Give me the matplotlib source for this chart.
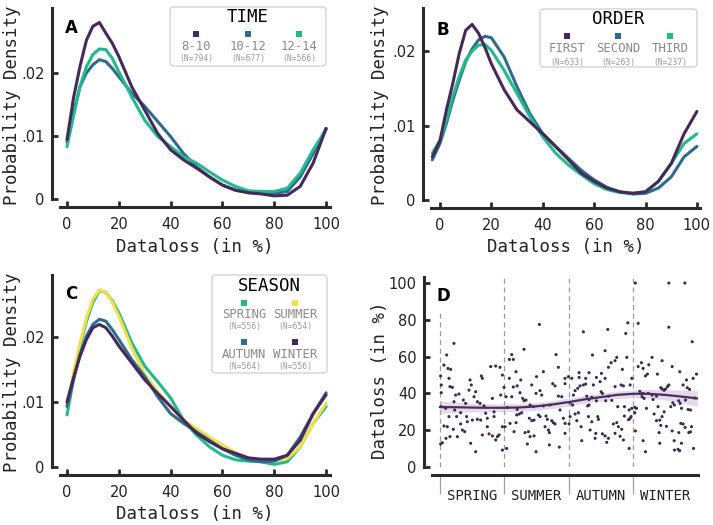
import numpy as np
import matplotlib
matplotlib.use("Agg")
import matplotlib.pyplot as plt
from matplotlib.patches import FancyBboxPatch, Rectangle

# ---------------- data ----------------
# density curves, x = dataloss in %
grid = [0, 2.5, 5, 7.5, 10, 12.5, 15, 17.5, 20, 25, 30, 35, 40, 45, 50, 55, 60, 65, 70, 75, 80, 85, 90, 95, 100]

time_labels = ["8-10", "10-12", "12-14"]
time_n = [794, 677, 566]
time_8_10 = [0.0094, 0.0160, 0.0210, 0.0252, 0.0274, 0.0280, 0.0263, 0.0247, 0.0226, 0.0178, 0.0141, 0.0104,
             0.0078, 0.0062, 0.0049, 0.0035, 0.0022, 0.0014, 0.0010, 0.0008, 0.0005, 0.0006, 0.0020, 0.0057,
             0.0112]
time_10_12 = [0.0090, 0.0136, 0.0178, 0.0200, 0.0213, 0.0221, 0.0218, 0.0207, 0.0194, 0.0168, 0.0147, 0.0123,
              0.0099, 0.0072, 0.0051, 0.0035, 0.0022, 0.0014, 0.0010, 0.0009, 0.0009, 0.0012, 0.0035, 0.0072,
              0.0112]
time_12_14 = [0.0083, 0.0131, 0.0178, 0.0210, 0.0229, 0.0238, 0.0237, 0.0223, 0.0202, 0.0162, 0.0125, 0.0099,
              0.0083, 0.0067, 0.0057, 0.0043, 0.0030, 0.0020, 0.0013, 0.0012, 0.0012, 0.0017, 0.0041, 0.0078,
              0.0110]

grid_b = [-3, 0, 2.5, 5, 7.5, 10, 12.5, 15, 17.5, 20, 25, 30, 35, 40, 45, 50, 55, 60, 65, 70, 75, 80, 85, 90,
          95, 100]
order_labels = ["FIRST", "SECOND", "THIRD"]
order_n = [633, 263, 237]
order_first = [0.0058, 0.0080, 0.0121, 0.0157, 0.0197, 0.0228, 0.0236, 0.0224, 0.0205, 0.0183, 0.0148, 0.0121,
               0.0105, 0.0089, 0.0072, 0.0054, 0.0036, 0.0025, 0.0016, 0.0011, 0.0009, 0.0011, 0.0025, 0.0049,
               0.0089, 0.0119]
order_second = [0.0054, 0.0076, 0.0103, 0.0134, 0.0161, 0.0186, 0.0203, 0.0215, 0.0220, 0.0218, 0.0192, 0.0152,
                0.0116, 0.0089, 0.0072, 0.0056, 0.0040, 0.0027, 0.0017, 0.0011, 0.0008, 0.0009, 0.0016, 0.0031,
                0.0058, 0.0072]
order_third = [0.0063, 0.0080, 0.0107, 0.0139, 0.0166, 0.0188, 0.0200, 0.0208, 0.0209, 0.0201, 0.0174, 0.0143,
               0.0112, 0.0085, 0.0063, 0.0047, 0.0034, 0.0022, 0.0014, 0.0010, 0.0009, 0.0011, 0.0025, 0.0049,
               0.0076, 0.0089]

season_labels = ["SPRING", "SUMMER", "AUTUMN", "WINTER"]
season_n = [556, 654, 564, 556]
season_spring = [0.0080, 0.0134, 0.0186, 0.0224, 0.0253, 0.0271, 0.0268, 0.0255, 0.0237, 0.0191, 0.0155, 0.0131,
                 0.0106, 0.0072, 0.0049, 0.0031, 0.0018, 0.0011, 0.0009, 0.0008, 0.0004, 0.0008, 0.0031, 0.0067,
                 0.0093]
season_summer = [0.0093, 0.0144, 0.0190, 0.0229, 0.0258, 0.0272, 0.0268, 0.0253, 0.0232, 0.0183, 0.0142, 0.0116,
                 0.0093, 0.0072, 0.0059, 0.0046, 0.0034, 0.0022, 0.0014, 0.0010, 0.0010, 0.0013, 0.0031, 0.0067,
                 0.0098]
season_autumn = [0.0093, 0.0134, 0.0173, 0.0201, 0.0219, 0.0227, 0.0224, 0.0211, 0.0196, 0.0165, 0.0139, 0.0108,
                 0.0082, 0.0067, 0.0054, 0.0041, 0.0028, 0.0018, 0.0011, 0.0008, 0.0009, 0.0018, 0.0046, 0.0082,
                 0.0114]
season_winter = [0.0100, 0.0137, 0.0170, 0.0196, 0.0214, 0.0219, 0.0214, 0.0201, 0.0186, 0.0160, 0.0134, 0.0113,
                 0.0093, 0.0072, 0.0052, 0.0039, 0.0028, 0.0021, 0.0014, 0.0012, 0.0012, 0.0018, 0.0041, 0.0082,
                 0.0111]

# panel D: sessions over the year (x in seasons, 0 = start of spring)
pts_x = [0.218, 0.104, 0.062, 0.124, 0.166, 0.01, 0.14, 0.02, 0.155, 0.192, 0.295, 0.244, 0.02, 0.467, 0.487,
         0.643, 0.658, 0.555, 0.529, 0.451, 0.363, 0.218, 0.399, 0.581, 0.622, 0.684, 0.02, 0.088, 0.228,
         0.321, 0.259, 0.414, 0.503, 0.581, 0.632, 0.71, 0.736, 0.84, 0.14, 0.425, 0.062, 0.114, 0.321,
         0.347, 0.384, 0.207, 0.27, 0.155, 0.093, 0.036, 0.01, 0.477, 0.555, 0.658, 0.762, 0.892, 0.814,
         0.866, 0.814, 0.788, 0.866, 0.933, 0.97, 0.995, 0.943, 0.84, 0.97, 0.918, 0.97, 0.736,
         # summer
         1.545, 1.306, 1.078, 1.14, 1.115, 1.804, 1.182, 1.607, 1.84, 1.078, 1.255, 1.5, 1.14, 1.2, 1.426,
         1.752, 1.788, 1.944, 1.996, 1.944, 1.555, 1.493, 1.581, 1.244, 1.115, 1.286, 1.306, 1.337, 1.4,
         1.451, 1.607, 1.84, 1.892, 1.711, 1.027, 1.2, 1.047, 1.233, 1.27, 1.192, 1.389, 1.426, 1.462,
         1.529, 1.555, 1.648, 1.669, 1.737, 1.762, 1.788, 1.633, 1.684, 1.7, 1.918, 1.866, 1.944, 1.089,
         1.182, 1.151, 1.011, 1.322, 1.374, 1.4, 1.462, 1.358, 1.493, 1.7, 1.855, 1.037, 1.944,
         # autumn
         2.229, 2.608, 2.919, 2.887, 2.566, 2.369, 2.903, 2.747, 2.721, 2.659, 2.618, 2.835, 2.048, 2.162,
         2.162, 2.317, 2.265, 2.431, 2.509, 2.566, 2.488, 2.384, 2.229, 2.265, 2.177, 2.141, 2.1, 2.074,
         2.721, 2.815, 2.851, 2.981, 2.955, 2.504, 2.525, 2.281, 2.359, 2.317, 2.618, 2.431, 2.576, 2.022,
         2.06, 2.317, 2.296, 2.67, 2.763, 2.866, 2.981, 2.94, 2.151, 2.1, 2.022, 2.307, 2.452, 2.462,
         2.866, 2.955, 2.126, 2.359, 2.695, 2.747, 2.773, 2.193, 2.006, 2.333, 2.825, 2.721, 2.929, 2.421,
         2.525, 2.566, 2.618, 2.41, 2.203, 2.799, 2.851, 2.94, 2.592, 2.97,
         # winter
         3.037, 3.557, 3.806, 3.08, 3.557, 3.92, 3.296, 3.452, 3.131, 3.08, 3.157, 3.245, 3.608, 3.727,
         3.987, 3.935, 3.224, 3.193, 3.379, 3.831, 3.779, 3.557, 3.536, 3.505, 3.484, 3.431, 3.452, 3.843,
         3.879, 3.105, 3.131, 3.157, 3.235, 3.296, 3.364, 3.141, 3.172, 3.312, 3.96, 3.618, 3.644, 3.711,
         3.732, 3.815, 3.857, 3.893, 3.028, 3.054, 3.209, 3.389, 3.587, 3.753, 3.028, 3.328, 3.484, 3.452,
         3.364, 3.416, 3.431, 3.743, 3.779, 3.909, 3.519, 3.405, 3.608, 3.712, 3.867, 3.893, 3.81, 3.037,
         3.157, 3.416, 3.64, 3.193, 3.644, 3.7, 3.725, 3.753, 3.94]
pts_y = [67.2, 60.9, 55.4, 53.6, 53.1, 49.5, 48.2, 44.6, 43.7, 43.3, 39.7, 39.1, 40.4, 47.3, 44.6,
         49.5, 48.2, 40.9, 38.2, 41.8, 36.4, 35.5, 34.6, 35.5, 34.6, 33.2, 32.8, 31.9, 31.0,
         29.5, 27.4, 27.4, 25.5, 25.9, 25.5, 29.2, 26.5, 27.4, 27.4, 24.6, 22.3, 21.9, 23.4,
         20.1, 19.2, 20.5, 16.5, 16.5, 15.6, 13.2, 12.5, 12.9, 8.3, 17.4, 18.0, 16.5, 16.9,
         14.7, 37.3, 54.6, 54.9, 54.2, 50.0, 43.3, 39.1, 30.0, 21.9, 17.4, 9.2, 21.9,
         # summer
         77.5, 64.0, 58.5, 58.5, 61.1, 61.1, 51.8, 51.8, 54.2, 48.2, 47.3, 49.1, 43.5, 44.1, 44.6,
         45.3, 44.1, 48.2, 49.1, 45.3, 41.5, 40.0, 39.1, 40.4, 38.2, 37.3, 36.0, 36.4, 33.7,
         32.8, 33.2, 38.5, 38.2, 33.7, 38.2, 31.3, 32.4, 28.8, 29.5, 28.3, 26.5, 25.2, 25.5,
         28.3, 27.4, 27.7, 25.9, 25.2, 24.1, 23.4, 21.9, 20.1, 18.7, 26.5, 31.0, 23.7, 23.7,
         24.1, 19.2, 21.9, 18.7, 19.2, 16.5, 16.9, 12.5, 8.3, 12.0, 10.8, 10.1, 18.3,
         # autumn
         73.5, 74.8, 78.4, 72.6, 63.2, 60.9, 59.6, 59.6, 57.8, 56.7, 54.2, 53.1, 48.2, 51.3,
         48.7, 51.3, 48.2, 48.7, 50.9, 48.2, 46.4, 44.6, 44.6, 45.1, 44.1, 42.8, 41.5, 39.1,
         43.7, 44.6, 44.1, 48.2, 44.6, 40.9, 40.0, 38.5, 37.9, 36.7, 38.5, 36.0, 36.0, 34.9,
         33.7, 33.7, 33.2, 36.2, 32.8, 32.8, 31.9, 31.0, 29.5, 28.8, 27.4, 27.4, 27.4, 25.9,
         27.7, 26.5, 25.2, 24.6, 23.4, 24.1, 21.9, 21.9, 23.4, 20.1, 20.5, 18.3, 25.7, 18.3,
         18.0, 16.9, 15.6, 15.6, 14.3, 16.7, 14.7, 10.1, 13.4, 27.4,
         # winter
         100.0, 100.0, 100.0, 78.1, 76.0, 68.1, 59.6, 57.8, 56.7, 54.6, 53.6, 55.6, 54.6, 51.8,
         50.5, 48.2, 50.5, 49.5, 50.5, 47.3, 44.6, 44.6, 43.7, 42.4, 41.7, 43.1, 42.4, 43.1,
         42.2, 41.1, 39.7, 40.0, 40.0, 39.1, 38.5, 38.2, 37.3, 36.7, 37.5, 34.9, 33.7, 36.0,
         34.6, 36.4, 31.3, 31.0, 32.4, 31.9, 31.9, 32.8, 32.8, 31.9, 29.5, 28.8, 30.0, 27.4,
         25.2, 25.5, 22.6, 23.7, 23.4, 21.9, 22.1, 18.7, 19.6, 18.7, 18.7, 19.1, 21.5, 19.6,
         14.3, 12.9, 14.3, 8.3, 9.2, 9.6, 8.9, 12.9, 10.1]

# smoothed trend + confidence band for panel D
trend_x = [0, 0.25, 0.5, 0.75, 1, 1.25, 1.5, 1.75, 2, 2.25, 2.5, 2.75, 3, 3.25, 3.5, 3.75, 4]
trend_y = [32.6, 32.5, 32.3, 32.2, 32.2, 32.4, 33.0, 34.0, 35.3, 36.8, 38.0, 39.2, 39.8, 39.8, 39.2, 38.3, 37.3]
trend_se = [3.4, 2.8, 2.4, 2.2, 2.1, 2.1, 2.1, 2.2, 2.2, 2.1, 2.1, 2.1, 2.2, 2.4, 2.8, 3.5, 4.3]

# ---------------- style ----------------
PURPLE = "#45295a"
TEAL = "#2d6c8c"
GREEN = "#22b98c"
YELLOW = "#f3df48"
SPINE = "#2a2a2a"
MONO = "DejaVu Sans Mono"

plt.rcParams["font.family"] = ["DejaVu Sans"]

W, H = 713, 525
fig = plt.figure(figsize=(W / 100, H / 100), dpi=100)


def fx(px):
    return px / W


def fy(py):
    return 1 - py / H


def style_axes(ax):
    for s in ["top", "right"]:
        ax.spines[s].set_visible(False)
    for s in ["left", "bottom"]:
        ax.spines[s].set_position(("outward", 6))
        ax.spines[s].set_linewidth(2.2)
        ax.spines[s].set_color(SPINE)
    ax.tick_params(direction="in", length=4, width=2, color=SPINE, labelsize=10.5, labelcolor="#222222")
    ax.tick_params(axis="x", pad=7)
    ax.tick_params(axis="y", pad=5)
    ax.patch.set_alpha(0)


def density_axes(ax, xs, curves, colors, ylim, yticks, ylabels, xlim):
    for ys, c in zip(curves, colors):
        ax.plot(xs, ys, color=c, lw=2.2, solid_capstyle="round", solid_joinstyle="round")
    ax.set_xlim(*xlim)
    ax.set_ylim(*ylim)
    ax.set_xticks([0, 20, 40, 60, 80, 100])
    ax.set_yticks(yticks)
    ax.set_yticklabels(ylabels)
    style_axes(ax)


def legend_box(x0, y0, x1, y1):
    box = FancyBboxPatch((fx(x0), fy(y1)), fx(x1) - fx(x0), fy(y0) - fy(y1),
                         boxstyle="round,pad=0,rounding_size=0.006", transform=fig.transFigure,
                         facecolor="white", edgecolor="#cfcfcf", lw=0.9, zorder=5)
    fig.add_artist(box)


def legend_entry(cx, my, ly, ny, color, label, n):
    fig.add_artist(Rectangle((fx(cx - 3), fy(my + 3)), 6 / W, 6 / H, transform=fig.transFigure,
                             facecolor=color, edgecolor="none", zorder=6))
    fig.text(fx(cx), fy(ly), label, family=MONO, fontsize=8.8, color="#8a8a8a",
             ha="center", va="center", zorder=6)
    fig.text(fx(cx), fy(ny), "(N=%d)" % n, family=MONO, fontsize=5.8, color="#9a9a9a",
             ha="center", va="center", zorder=6)


# ---------------- panel A ----------------
axA = fig.add_axes([fx(60), fy(199), (330 - 60) / W, (199 - 8) / H])
density_axes(axA, grid, [time_10_12, time_12_14, time_8_10], [TEAL, GREEN, PURPLE],
             (0, 0.0303), [0, 0.01, 0.02], ["0", ".01", ".02"], (-2.7, 101.5))
fig.text(fx(12), fy(105), "Probability Density", family=MONO, fontsize=12.5, rotation=90,
         ha="center", va="center", color="#222222")
fig.text(fx(195), fy(247), "Dataloss (in %)", family=MONO, fontsize=12.5, ha="center", va="center",
         color="#222222")
fig.text(fx(71), fy(28), "A", fontsize=12, fontweight="bold", ha="center", va="center")

legend_box(170, 7, 326, 66)
fig.text(fx(248), fy(17), "TIME", family=MONO, fontsize=12.5, ha="center", va="center", zorder=6)
for cx, c, lab, n in zip([196, 248, 299], [PURPLE, TEAL, GREEN], time_labels, time_n):
    legend_entry(cx, 34, 47, 59, c, lab, n)

# ---------------- panel B ----------------
axB = fig.add_axes([fx(431), fy(200), (700 - 431) / W, (200 - 8) / H])
density_axes(axB, grid_b, [order_second, order_third, order_first], [TEAL, GREEN, PURPLE],
             (0, 0.0258), [0, 0.01, 0.02], ["0", ".01", ".02"], (-3.5, 101.2))
fig.text(fx(380), fy(105), "Probability Density", family=MONO, fontsize=12.5, rotation=90,
         ha="center", va="center", color="#222222")
fig.text(fx(566), fy(247), "Dataloss (in %)", family=MONO, fontsize=12.5, ha="center", va="center",
         color="#222222")
fig.text(fx(443), fy(30), "B", fontsize=12, fontweight="bold", ha="center", va="center")

legend_box(540, 9, 697, 67)
fig.text(fx(618), fy(19), "ORDER", family=MONO, fontsize=12.5, ha="center", va="center", zorder=6)
for cx, c, lab, n in zip([567, 618, 670], [PURPLE, TEAL, GREEN], order_labels, order_n):
    legend_entry(cx, 36, 49, 62, c, lab, n)

# ---------------- panel C ----------------
axC = fig.add_axes([fx(60), fy(467), (330 - 60) / W, (467 - 275) / H])
density_axes(axC, grid, [season_spring, season_summer, season_autumn, season_winter],
             [GREEN, YELLOW, TEAL, PURPLE],
             (0, 0.0295), [0, 0.01, 0.02], ["0", ".01", ".02"], (-2.7, 101.5))
fig.text(fx(12), fy(372), "Probability Density", family=MONO, fontsize=12.5, rotation=90,
         ha="center", va="center", color="#222222")
fig.text(fx(195), fy(514), "Dataloss (in %)", family=MONO, fontsize=12.5, ha="center", va="center",
         color="#222222")
fig.text(fx(71), fy(294), "C", fontsize=12, fontweight="bold", ha="center", va="center")

legend_box(212, 275, 327, 373)
fig.text(fx(269), fy(286), "SEASON", family=MONO, fontsize=12.5, ha="center", va="center", zorder=6)
season_colors = [GREEN, YELLOW, TEAL, PURPLE]
for i, (c, lab, n) in enumerate(zip(season_colors, season_labels, season_n)):
    cx = [244, 295][i % 2]
    dy = [0, 39][i // 2]
    legend_entry(cx, 303 + dy, 315 + dy, 327 + dy, c, lab, n)

# ---------------- panel D ----------------
axD = fig.add_axes([fx(432), fy(467), (698 - 432) / W, (467 - 277) / H])
axD.scatter(pts_x, pts_y, s=5, color="#3d2850", edgecolors="none", zorder=3)
lo = np.array(trend_y) - np.array(trend_se)
hi = np.array(trend_y) + np.array(trend_se)
axD.fill_between(trend_x, lo, hi, color="#cdbfd6", alpha=0.55, lw=0, zorder=2)
axD.plot(trend_x, trend_y, color="#4a2f5e", lw=1.6, zorder=4)
season_starts = [0, 1, 2, 3]
for i, s in enumerate(season_starts):
    axD.axvline(s, ymin=0, ymax=0.81 if i == 0 else 1, color="#999999", lw=0.9,
                ls=(0, (4, 3)), zorder=1)
axD.set_xlim(-0.124, 4.01)
axD.set_ylim(0, 103.3)
axD.set_yticks([0, 20, 40, 60, 80, 100])
axD.set_xticks([s + 0.5 for s in season_starts])
axD.set_xticklabels(season_labels)
axD.set_xticks(season_starts, minor=True)
style_axes(axD)
axD.tick_params(axis="x", which="major", length=0, pad=10, labelsize=10)
for t in axD.get_xticklabels():
    t.set_family(MONO)
axD.tick_params(axis="x", which="minor", direction="out", length=14, width=0.9, color="#a0a0a0")
fig.text(fx(380), fy(380), "Dataloss (in %)", family=MONO, fontsize=12.5, rotation=90,
         ha="center", va="center", color="#222222")
fig.text(fx(443), fy(296), "D", fontsize=12, fontweight="bold", ha="center", va="center")

fig.savefig("out.png", dpi=100)
